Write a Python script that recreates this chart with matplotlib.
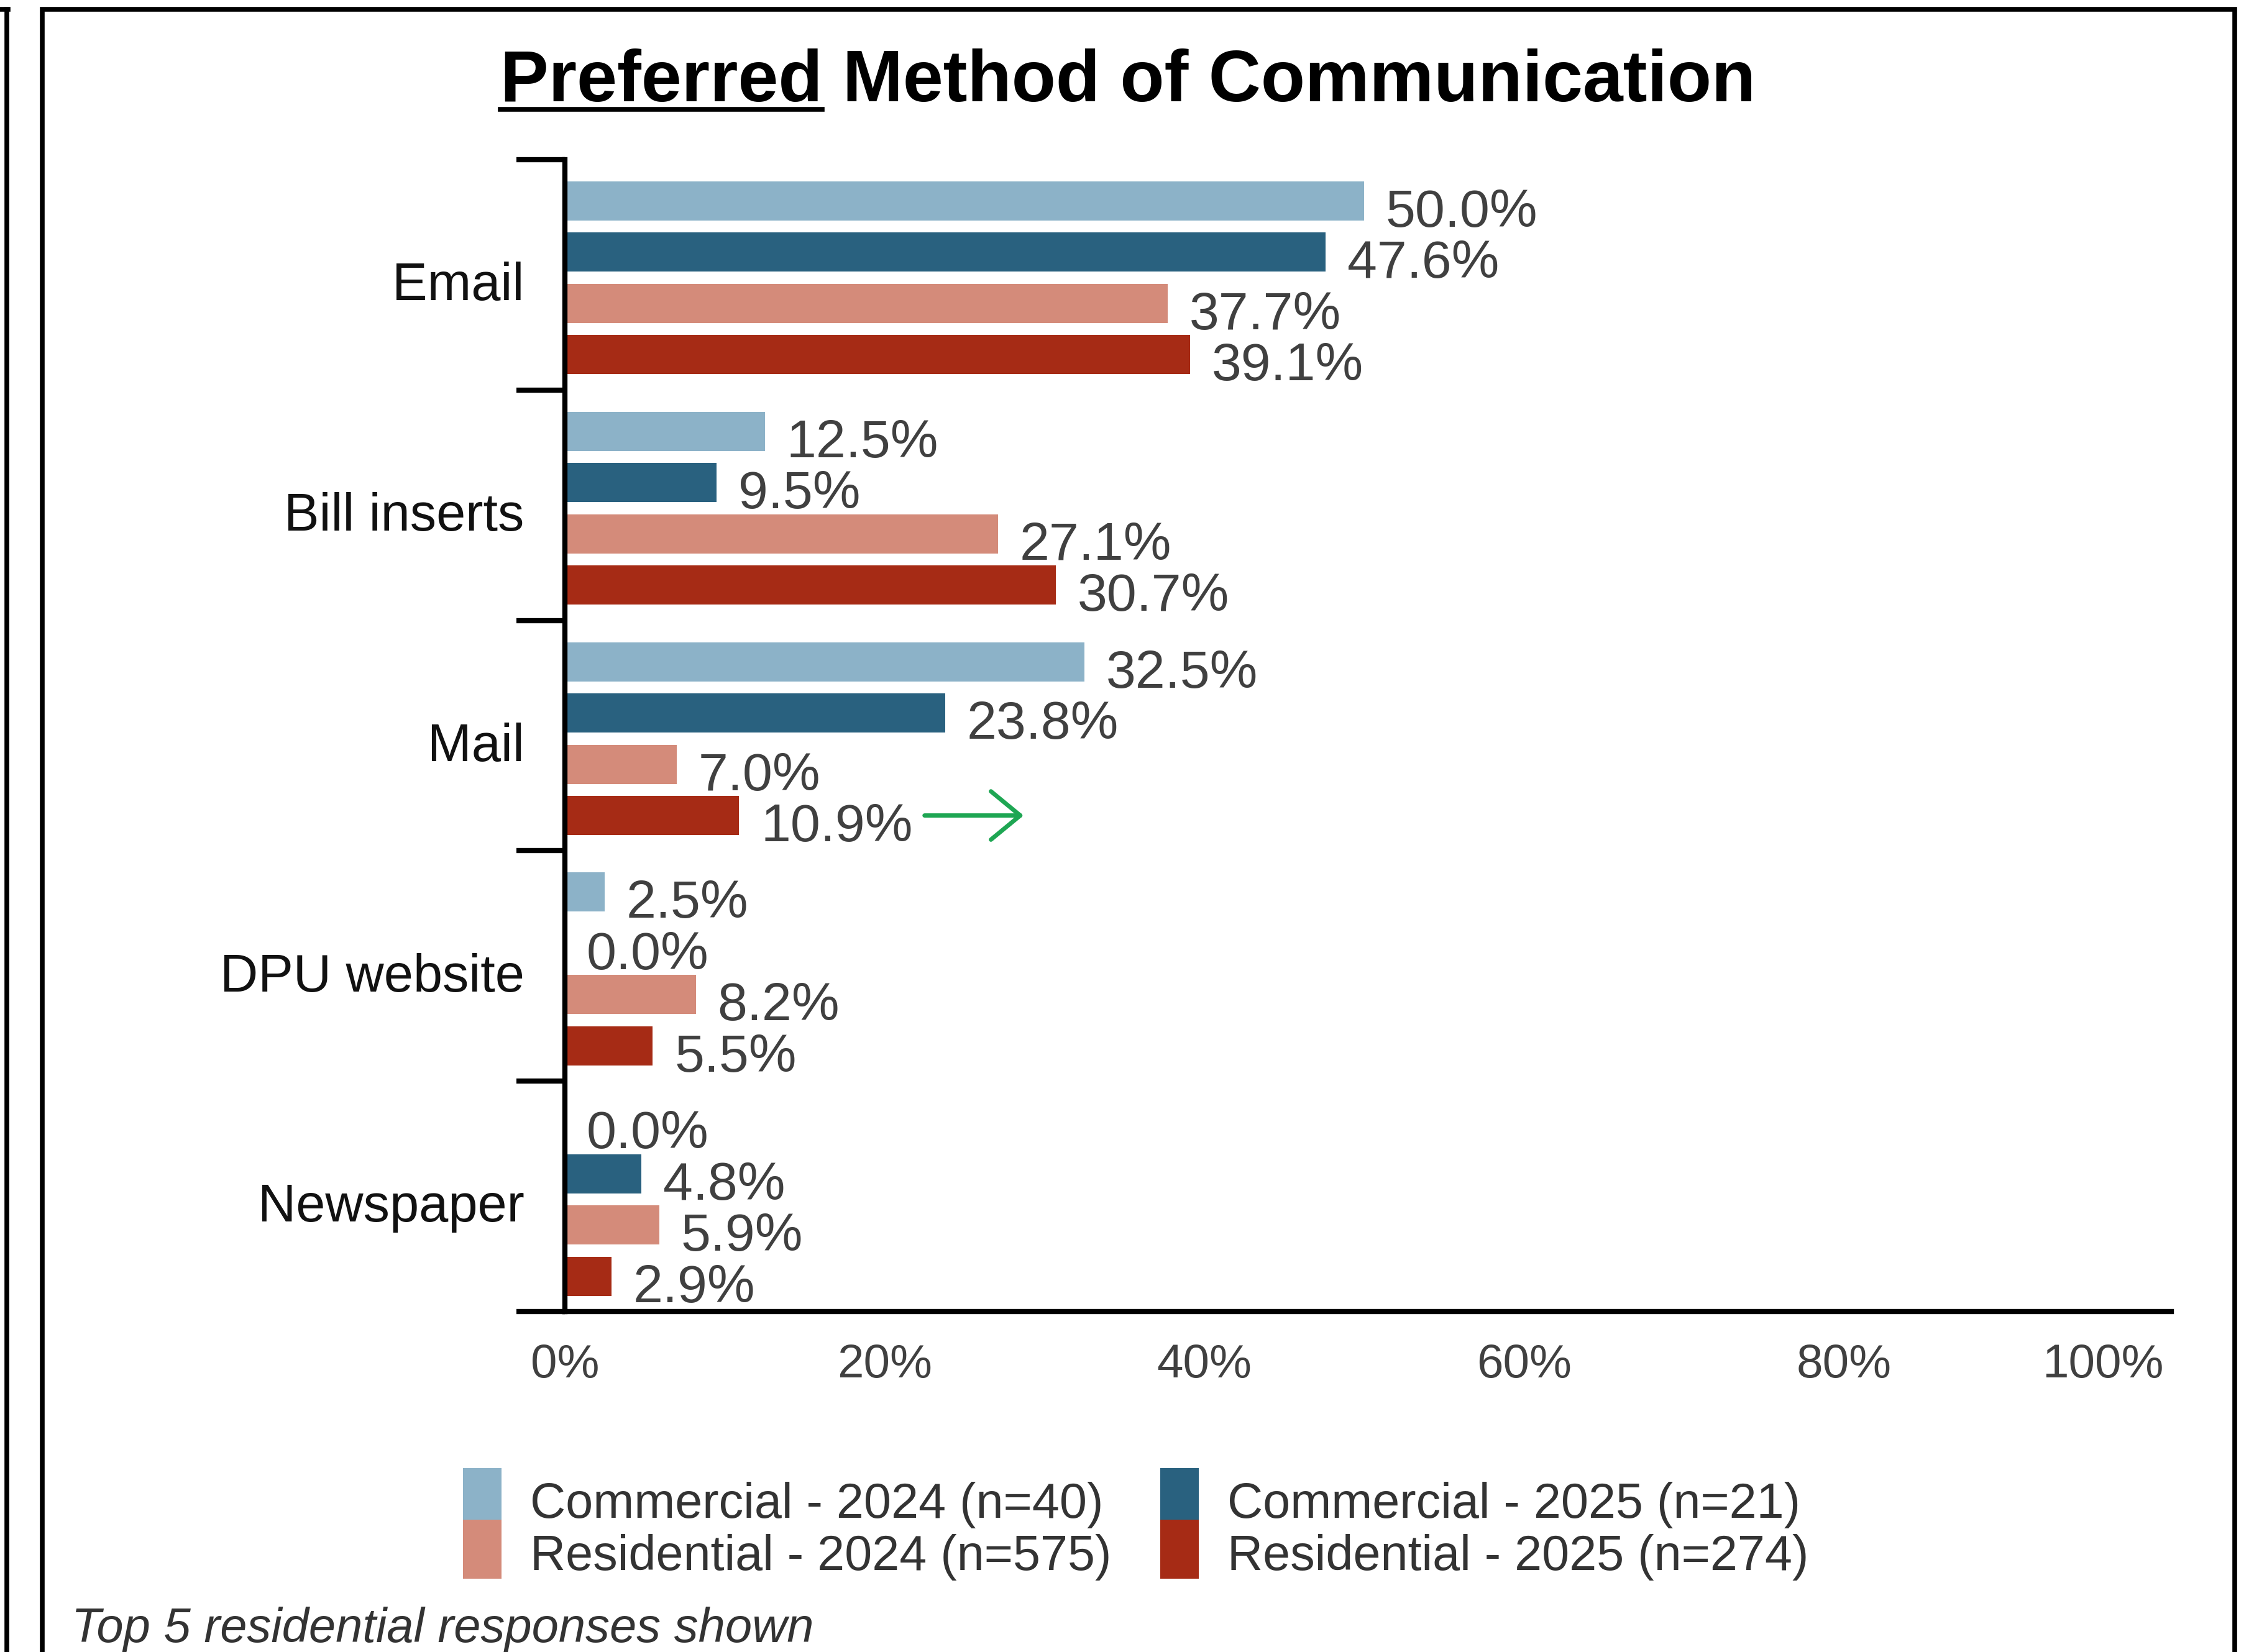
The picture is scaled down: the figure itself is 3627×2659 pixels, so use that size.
import matplotlib
matplotlib.use("Agg")
import matplotlib.pyplot as plt
from matplotlib.lines import Line2D
from matplotlib.patches import Rectangle
from matplotlib.legend_handler import HandlerPatch
from matplotlib.container import BarContainer
from matplotlib.transforms import ScaledTranslation
import numpy as np

plt.rcParams["font.family"] = ["Liberation Sans", "DejaVu Sans"]

categories = ["Email", "Bill inserts", "Mail", "DPU website", "Newspaper"]
series_names = [
    "Commercial - 2024 (n=40)",
    "Residential - 2024 (n=575)",
    "Commercial - 2025 (n=21)",
    "Residential - 2025 (n=274)",
]
commercial_2024 = [50.0, 12.5, 32.5, 2.5, 0.0]
commercial_2025 = [47.6, 9.5, 23.8, 0.0, 4.8]
residential_2024 = [37.7, 27.1, 7.0, 8.2, 5.9]
residential_2025 = [39.1, 30.7, 10.9, 5.5, 2.9]
x_ticks = [0, 20, 40, 60, 80, 100]
x_tick_labels = ["0%", "20%", "40%", "60%", "80%", "100%"]

colors = {
    "c24": "#8cb2c8",
    "c25": "#29617f",
    "r24": "#d48b7a",
    "r25": "#a62b15",
}
value_color = "#404040"

W, H = 3627, 2659
fig = plt.figure(figsize=(W / 100, H / 100), dpi=100)
ax = fig.add_axes([909 / W, 1 - 2111 / H, (3494 - 909) / W, (2111 - 257) / H])

y = np.arange(len(categories))
pitch = 0.2225
bar_h = 0.17
order = [
    ("c24", commercial_2024, series_names[0]),
    ("c25", commercial_2025, series_names[2]),
    ("r24", residential_2024, series_names[1]),
    ("r25", residential_2025, series_names[3]),
]
handles = {}
for k, (key, vals, name) in enumerate(order):
    pos = y + (k - 1.5) * pitch + 0.013
    bars = ax.barh(pos, vals, height=bar_h, color=colors[key], label=name)
    handles[name] = bars
    for p, v in zip(pos, vals):
        ax.annotate(f"{v:.1f}%", (v, p), xytext=(25, -14), textcoords="offset points",
                    ha="left", va="center", fontsize=62, color=value_color)

# little green pointer next to the Mail residential bar
mail_y = 2 + 1.5 * pitch + 0.013
ax.annotate("", xy=(28.7, mail_y), xytext=(22.5, mail_y),
            arrowprops=dict(arrowstyle="->,head_length=34,head_width=28",
                            mutation_scale=1, color="#1ea653", lw=5,
                            shrinkA=0, shrinkB=0))

ax.set_xlim(0, 100.5)
ax.set_ylim(len(categories) - 0.5, -0.5)

for s in ["top", "right"]:
    ax.spines[s].set_visible(False)
for s in ["left", "bottom"]:
    ax.spines[s].set_linewidth(6)
    ax.spines[s].set_color("black")

# category boundaries as long ticks, names on minor ticks
ax.set_yticks(np.arange(-0.5, len(categories), 1.0))
ax.set_yticklabels([])
ax.tick_params(axis="y", which="major", length=56, width=6, color="black")
ax.set_yticks(y, minor=True)
ax.set_yticklabels(categories, minor=True, fontsize=61, color="#111111")
ax.tick_params(axis="y", which="minor", length=0, pad=47)
shift = ScaledTranslation(0, -7 / 72, fig.dpi_scale_trans)
for lab in ax.get_yticklabels(minor=True):
    lab.set_transform(lab.get_transform() + shift)

ax.set_xticks(x_ticks)
ax.set_xticklabels(x_tick_labels, fontsize=55, color=value_color)
ax.tick_params(axis="x", length=0, pad=37)
ax.get_xticklabels()[-1].set_horizontalalignment("right")

# title with the first word underlined
title_y = 1 - 163 / H
title = fig.text(1815 / W, title_y, "Preferred Method of Communication",
                 ha="center", va="baseline", fontsize=84, fontweight="bold")
fig.canvas.draw()
renderer = fig.canvas.get_renderer()
tb = title.get_window_extent(renderer)
probe = fig.text(0, 0, "Preferred", fontsize=84, fontweight="bold")
pw = probe.get_window_extent(renderer).width
probe.remove()
uy = 1 - 176 / H
fig.add_artist(Line2D([tb.x0 / W, (tb.x0 + pw) / W], [uy, uy], color="black", lw=5.5))


def full_box_patch(legend, orig_handle, xdescent, ydescent, width, height, fontsize):
    # fill the whole handle box so stacked swatches touch
    return Rectangle((-xdescent, -ydescent - 1), width, height + ydescent + 2)


leg = fig.legend(
    [handles[n] for n in series_names], series_names,
    loc="upper left", bbox_to_anchor=(745 / W, 1 - 2377 / H),
    ncol=2, frameon=False, fontsize=57, borderpad=0, borderaxespad=0,
    handlelength=0.78, handleheight=1.16, handletextpad=0.58,
    labelspacing=0.0, columnspacing=1.0,
    handler_map={BarContainer: HandlerPatch(patch_func=full_box_patch,
                                            update_func=lambda h, o: h.update_from(o[0]))},
)
for t in leg.get_texts():
    t.set_color("#333333")

fig.text(115 / W, 1 - 2643 / H, "Top 5 residential responses shown",
         ha="left", va="baseline", fontsize=56, style="italic", color="#333333")

# panel frames
fig.add_artist(Rectangle((68 / W, -0.1), (3596 - 68) / W, 1.1 - 15 / H,
                         fill=False, ec="black", lw=5.5, transform=fig.transFigure))
fig.add_artist(Line2D([11 / W, 11 / W], [-0.1, 1 - 15 / H], color="black", lw=5.5))
fig.add_artist(Line2D([0, 13 / W], [1 - 15 / H, 1 - 15 / H], color="black", lw=5.5))

fig.savefig("out.png", dpi=100, facecolor="white")
